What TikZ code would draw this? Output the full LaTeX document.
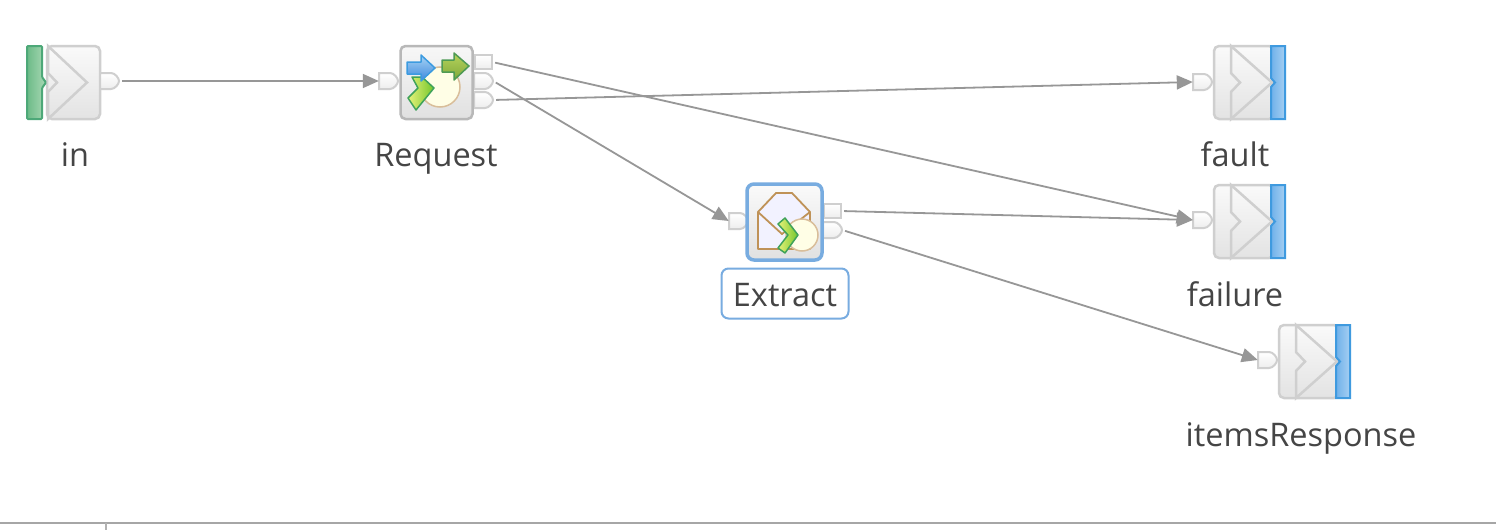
\documentclass[tikz,border=0pt]{standalone}
\usepackage{fontspec}
\setmainfont{Open Sans}
\usetikzlibrary{arrows.meta,shapes.geometric}
\definecolor{edgeg}{HTML}{979797}
\definecolor{frameg}{HTML}{CFCFCF}
\definecolor{labelc}{HTML}{454545}
\definecolor{selblue}{HTML}{78ACE0}
\definecolor{barblue}{HTML}{3F9ADF}
\definecolor{barblueA}{HTML}{A6CFF2}
\definecolor{barblueB}{HTML}{6FB1EA}
\definecolor{bargreen}{HTML}{4DA878}
\definecolor{bargreenA}{HTML}{6DBB88}
\definecolor{bargreenB}{HTML}{A9D9B5}
\definecolor{envbrown}{HTML}{BF9257}
\definecolor{limeA}{HTML}{E6F27A}
\definecolor{limeB}{HTML}{74C62B}
\definecolor{limeE}{HTML}{3FA25A}
\definecolor{arrowgA}{HTML}{B7D35C}
\definecolor{arrowgB}{HTML}{7FA83A}
\definecolor{arrowgE}{HTML}{4E9A54}
\definecolor{arrowbA}{HTML}{A6D3F5}
\definecolor{arrowbB}{HTML}{3D88DC}
\definecolor{arrowbE}{HTML}{3C9BE0}
\tikzset{
  x=1pt,y=-1pt,
  link/.style={draw=edgeg,line width=1.8pt,-{Triangle[length=16pt,width=14pt,fill=edgeg]},shorten <=3pt,shorten >=0pt},
  portnode/.style={inner sep=0pt,minimum width=19pt,minimum height=16pt,draw=none},
  portline/.style={draw=frameg,line width=2pt,top color=white,bottom color=black!7},
  bodyline/.style={draw=frameg,line width=2.5pt,rounded corners=5pt,top color=black!2,bottom color=black!11},
  chev/.style={draw=frameg,line width=2.5pt,line join=miter,top color=black!2,bottom color=black!11},
  lbl/.style={font=\fontsize{32.5}{38}\selectfont,text=labelc,inner sep=0pt,anchor=base},
  glyphgreen/.style={draw=limeE,line width=1.5pt,line join=round,left color=limeA,right color=limeB},
  circ/.style={draw=envbrown!60,line width=1.5pt,fill=yellow!10}
}
% D-shaped port: name, left x, centre y
\newcommand{\dport}[3]{%
  \path[portline] (#2,#3-8) -- (#2+11,#3-8) .. controls (#2+15,#3-8) and (#2+19,#3-3) .. (#2+19,#3) .. controls (#2+19,#3+3) and (#2+15,#3+8) .. (#2+11,#3+8) -- (#2,#3+8) -- cycle;
  \node[portnode] (#1) at (#2+9.5,#3) {};}
% square port: name, left x, centre y
\newcommand{\sport}[3]{%
  \path[portline] (#2,#3-7) rectangle (#2+17,#3+7);
  \node[portnode,minimum width=17pt,minimum height=14pt] (#1) at (#2+8.5,#3) {};}
% input terminal: name, left x, top y
\newcommand{\interm}[3]{%
  \path[bodyline] (#2+20,#3) -- (#2+73,#3) -- (#2+73,#3+73) -- (#2+20,#3+73) -- cycle;
  \path[chev] (#2+21,#3) -- (#2+60,#3+36.5) -- (#2+21,#3+73) -- (#2+21,#3+46) -- (#2+30,#3+36.5) -- (#2+21,#3+27) -- cycle;
  \path[draw=bargreen,line width=2pt,rounded corners=1pt,left color=bargreenA,right color=bargreenB]
    (#2,#3) -- (#2+15,#3) -- (#2+15,#3+31) -- (#2+19,#3+36.5) -- (#2+15,#3+42) -- (#2+15,#3+73) -- (#2,#3+73) -- cycle;
  \node[inner sep=0pt,minimum width=73pt,minimum height=73pt] (#1) at (#2+37,#3+36.5) {};}
% output terminal: name, left x, top y
\newcommand{\outterm}[3]{%
  \path[bodyline] (#2,#3) -- (#2+60,#3) -- (#2+60,#3+73) -- (#2,#3+73) -- cycle;
  \path[chev] (#2+17,#3) -- (#2+58,#3+36.5) -- (#2+17,#3+73) -- (#2+17,#3+46) -- (#2+26,#3+36.5) -- (#2+17,#3+27) -- cycle;
  \path[draw=barblue,line width=2pt,left color=barblueB,right color=barblueA]
    (#2+57,#3) -- (#2+71,#3) -- (#2+71,#3+73) -- (#2+57,#3+73) -- (#2+57,#3+41) -- (#2+61,#3+36.5) -- (#2+57,#3+32) -- cycle;
  \node[inner sep=0pt,minimum width=73pt,minimum height=73pt] (#1) at (#2+36,#3+36.5) {};}
\begin{document}
\begin{tikzpicture}
\useasboundingbox (0,0) rectangle (1496,530);
\fill[white] (0,0) rectangle (1496,530);

% bottom rule
\coordinate (ruleL) at (0,523);
\coordinate (ruleR) at (1496,523);
\coordinate (tickT) at (106,523);
\coordinate (tickB) at (106,530);
\draw[draw=black!35,line width=1.6pt] (ruleL) -- (ruleR);
\draw[draw=black!30,line width=1.6pt] (tickT) -- (tickB);

% in
\interm{inT}{27}{46}
\dport{inOut}{100}{81}
\node[lbl] (inL) at (75,166) {in};

% Request
\dport{reqIn}{379}{81}
\sport{reqOutA}{475}{62}
\dport{reqOutB}{474}{81}
\dport{reqOutC}{474}{100}
\node[inner sep=0pt,minimum width=72pt,minimum height=73pt,rounded corners=5pt,draw=black!28,line width=2.5pt,top color=black!3,bottom color=black!12] (req) at (436.5,82.5) {};
\node[lbl] (reqL) at (436,166) {Request};
\draw[circ] (440,87) circle (20);
\path[glyphgreen] (412,77) -- (422,77) -- (434,88) -- (416,110) -- (408,98) -- (418,88) -- cycle;
\path[draw=arrowbE,line width=1.5pt,line join=round,top color=arrowbA,bottom color=arrowbB] (407,62) -- (421,62) -- (421,55) -- (435,68) -- (421,81) -- (421,74) -- (407,74) -- cycle;
\path[draw=arrowgE,line width=1.5pt,line join=round,top color=arrowgA,bottom color=arrowgB] (442,60) -- (454,60) -- (454,53) -- (469,66) -- (454,80) -- (454,72) -- (442,72) -- cycle;

% Extract
\dport{extIn}{729}{221}
\sport{extOutA}{824}{211}
\dport{extOutB}{823}{230}
\node[inner sep=0pt,minimum width=75pt,minimum height=76pt,rounded corners=7pt,draw=selblue,line width=3.5pt,top color=black!2,bottom color=black!12] (ext) at (784.5,222) {};
\path[draw=envbrown,line width=1.8pt,line join=round,fill=blue!5!white] (758,212) -- (776,193) -- (792,193) -- (810,212) -- (810,249) -- (758,249) -- cycle;
\draw[draw=envbrown,line width=1.8pt] (758,212) -- (782,234) -- (810,212);
\draw[circ] (802,235) circle (16);
\path[glyphgreen] (778,224) -- (785,218) -- (798,235) -- (785,253) -- (778,248) -- (788,235) -- cycle;
\node[draw=selblue,line width=2pt,fill=white,rounded corners=7pt,minimum width=127pt,minimum height=50pt,inner sep=0pt] (extBox) at (785,293.5) {};
\node[lbl] (extL) at (785,306) {Extract};

% terminals
\dport{faultIn}{1193}{82}
\outterm{faultT}{1214}{46}
\node[lbl] (faultL) at (1235,166) {fault};

\dport{failIn}{1193}{220}
\outterm{failT}{1214}{185}
\node[lbl] (failL) at (1235,306) {failure};

\dport{itemsIn}{1258}{360}
\outterm{itemsT}{1279}{325}
\node[lbl] (itemsL) at (1301,446) {itemsResponse};

% connectors
\draw[link] (inOut.east) -- (reqIn.west);
\draw[link] (reqOutA.east) -- (failIn.west);
\draw[link] (reqOutB.east) -- (extIn.west);
\draw[link] (reqOutC.east) -- (faultIn.west);
\draw[link] (extOutA.east) -- (failIn.west);
\draw[link] (extOutB.east) -- (itemsIn.west);
\end{tikzpicture}
\end{document}
